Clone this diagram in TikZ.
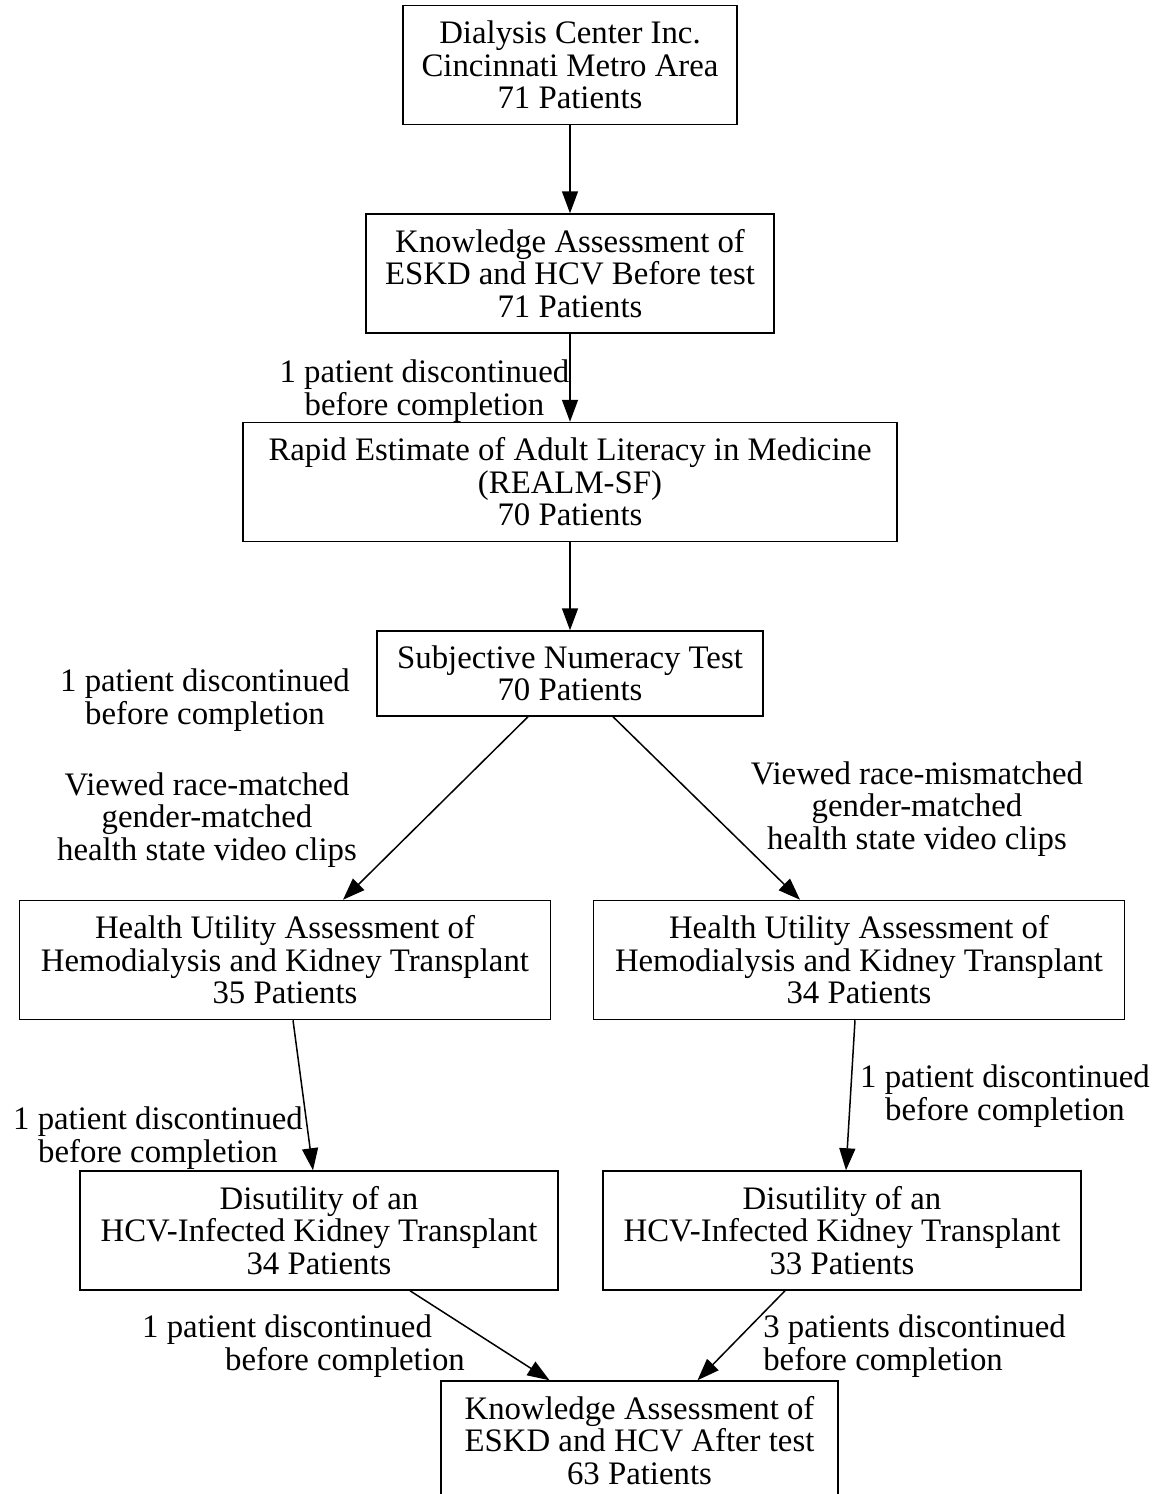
\documentclass[tikz,border=0pt]{standalone}
\usepackage{fontspec}
\setmainfont{Liberation Serif}
\usetikzlibrary{arrows.meta,positioning}

\begin{document}
\begin{tikzpicture}[x=0.5pt,y=-0.5pt,->,>={Triangle[length=11pt,width=8pt]},
                    node distance=44pt,line width=0.75pt,
                    box node/.style={rectangle,draw,align=center,inner sep=0pt,
                      minimum height=59.5pt,font=\fontsize{16.4}{16.25}\selectfont},
                    note node/.style={align=center,inner sep=0pt,
                      font=\fontsize{16.4}{16.25}\selectfont}]
  \useasboundingbox (0,0) rectangle (1160,1494);

  \node[box node, minimum width=167pt] (center) at (570,65)
    {Dialysis Center Inc.\\Cincinnati Metro Area\\71 Patients};
  \node[box node, minimum width=204pt] (pre) [below=of center]
    {Knowledge Assessment of\\ESKD and HCV Before test\\71 Patients};
  \node[box node, minimum width=327pt] (realm) [below=of pre]
    {Rapid Estimate of Adult Literacy in Medicine\\(REALM-SF)\\70 Patients};
  \node[box node, minimum width=193pt, minimum height=42.5pt] (snt) [below=of realm]
    {Subjective Numeracy Test\\70 Patients};

  \node[box node, minimum width=265.5pt] (hul) at (285,960)
    {Health Utility Assessment of\\Hemodialysis and Kidney Transplant\\35 Patients};
  \node[box node, minimum width=265.5pt] (hur) at (859,960)
    {Health Utility Assessment of\\Hemodialysis and Kidney Transplant\\34 Patients};
  \node[box node, minimum width=239pt] (hcvl) at (319,1230.5)
    {Disutility of an\\HCV-Infected Kidney Transplant\\34 Patients};
  \node[box node, minimum width=239pt] (hcvr) at (842,1230.5)
    {Disutility of an\\HCV-Infected Kidney Transplant\\33 Patients};
  \node[box node, minimum width=198.5pt] (post) at (639.5,1440.5)
    {Knowledge Assessment of\\ESKD and HCV After test\\63 Patients};

  % free labels
  \node[note node] (dropsnt) at (205,700) {1 patient discontinued\\before completion};
  \node[note node] (viewl) at (207,820)
    {Viewed race-matched\\gender-matched\\health state video clips};
  \node[note node] (viewr) at (917,809)
    {Viewed race-mismatched\\gender-matched\\health state video clips};
  \node[note node] (drophul) at (158,1138) {1 patient discontinued\\before completion};
  \node[note node] (drophur) at (1005,1096) {1 patient discontinued\\before completion};
  \node[note node, align=left] (drophcvl) at (303.5,1346)
    {1 patient discontinued\\\hspace*{41.5pt}before completion};
  \node[note node, align=left] (drophcvr) at (914.5,1346)
    {3 patients discontinued\\before completion};

  \path
    (center) edge (pre)
    (pre) edge node[note node, left, pos=0.65] {1 patient discontinued\\before completion} (realm)
    (realm) edge (snt)
    ([xshift=-21pt]snt.south) edge ([xshift=29pt]hul.north)
    ([xshift=21.5pt]snt.south) edge ([xshift=-29.5pt]hur.north)
    ([xshift=4pt]hul.south) edge ([xshift=-3pt]hcvl.north)
    ([xshift=-2pt]hur.south) edge ([xshift=2pt]hcvr.north)
    ([xshift=45.5pt]hcvl.south) edge ([xshift=-45pt]post.north)
    ([xshift=-28.5pt]hcvr.south) edge ([xshift=29pt]post.north);
\end{tikzpicture}
\end{document}
